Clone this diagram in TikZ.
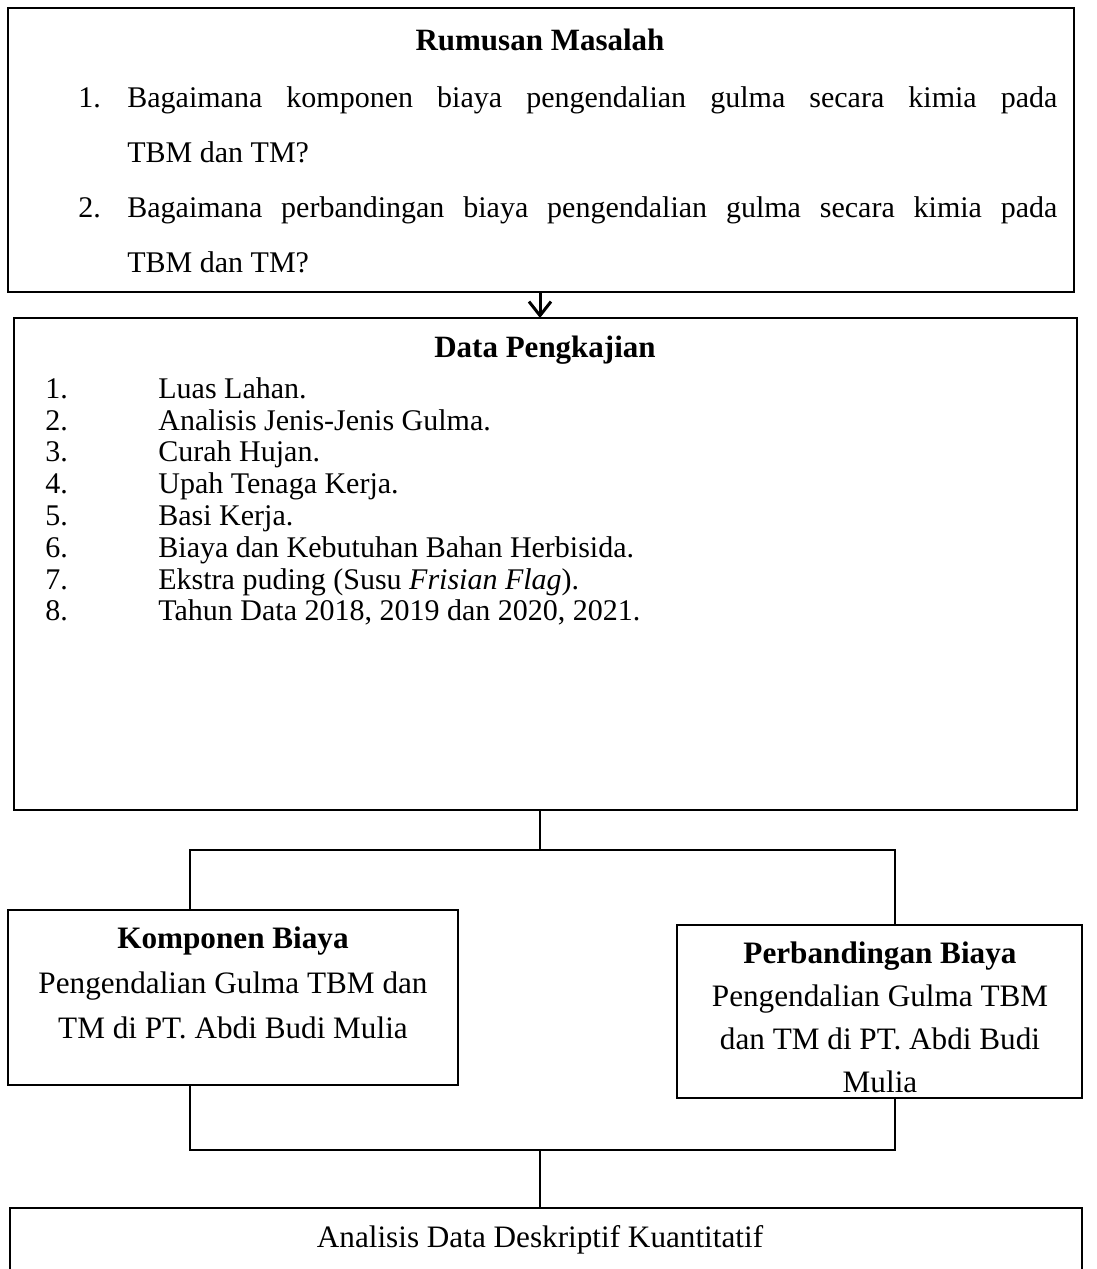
\documentclass[tikz,border=0pt]{standalone}
\usepackage{fontspec}
\setmainfont{Liberation Serif}
\usetikzlibrary{arrows.meta,positioning}

\newcommand{\listfont}{\fontsize{15}{27.5}\selectfont}
\newcommand{\datafont}{\fontsize{15}{15.9}\selectfont}
\newcommand{\boxfont}{\fontsize{15.6}{22.5}\selectfont}
\newcommand{\titlefont}{\fontsize{15.5}{18}\selectfont\bfseries}

\begin{document}
\begin{tikzpicture}[x=0.5pt,y=-0.5pt,
  box/.style={draw, line width=1.2pt, inner sep=0pt, outer sep=0pt, anchor=north west},
  link/.style={line width=1pt},
  font=\fontsize{15}{18}\selectfont]
  \useasboundingbox (0,0) rectangle (1097,1269);

  % boxes
  \node[box, minimum width=533pt, minimum height=142pt] (rumusan) at (8,8) {};
  \node[box, minimum width=531.5pt, minimum height=246pt] (data) at (14,318) {};
  \node[box, minimum width=225pt, minimum height=87.5pt] (komponen) at (8,910) {};
  \node[box, minimum width=202.5pt, minimum height=86.5pt] (banding) at (677,925) {};
  \node[box, minimum width=536pt, minimum height=60pt] (analisis) at (10,1208) {};

  % rumusan masalah
  \node[font=\titlefont] (rumusan title) at (540,40) {Rumusan Masalah};
  \node[anchor=north west, inner sep=0pt, text width=465pt, align=justify, font=\listfont] (soal) at (127,86)
    {\tolerance=9999
     \leavevmode\llap{\makebox[24.5pt][l]{1.}}Bagaimana komponen biaya pengendalian gulma secara kimia pada\linebreak TBM dan TM?\par
     \leavevmode\llap{\makebox[24.5pt][l]{2.}}Bagaimana perbandingan biaya pengendalian gulma secara kimia pada\linebreak TBM dan TM?};

  % data pengkajian
  \node[font=\titlefont] (data title) at (545,350) {Data Pengkajian};
  \node[anchor=north west, inner sep=0pt, align=left, font=\datafont] (butir) at (158,377)
    {\llap{\makebox[56.5pt][l]{1.}}Luas Lahan.\\
     \llap{\makebox[56.5pt][l]{2.}}Analisis Jenis-Jenis Gulma.\\
     \llap{\makebox[56.5pt][l]{3.}}Curah Hujan.\\
     \llap{\makebox[56.5pt][l]{4.}}Upah Tenaga Kerja.\\
     \llap{\makebox[56.5pt][l]{5.}}Basi Kerja.\\
     \llap{\makebox[56.5pt][l]{6.}}Biaya dan Kebutuhan Bahan Herbisida.\\
     \llap{\makebox[56.5pt][l]{7.}}Ekstra puding (Susu \textit{Frisian Flag}).\\
     \llap{\makebox[56.5pt][l]{8.}}Tahun Data 2018, 2019 dan 2020, 2021.};

  % komponen dan perbandingan
  \node[anchor=north, inner sep=0pt, align=center, font=\boxfont] (komponen text) at (233,926)
    {\textbf{Komponen Biaya}\\Pengendalian Gulma TBM dan\\TM di PT. Abdi Budi Mulia};
  \node[anchor=north, inner sep=0pt, align=center, font=\fontsize{15.6}{21.5}\selectfont] (banding text) at (880,941)
    {\textbf{Perbandingan Biaya}\\Pengendalian Gulma TBM\\dan TM di PT. Abdi Budi\\Mulia};

  \node[font=\fontsize{15.6}{18}\selectfont] (analisis text) at (540,1240) {Analisis Data Deskriptif Kuantitatif};

  % connectors
  \draw[line width=1.5pt, -{Straight Barb[length=7pt,width=11pt]}] (rumusan.south -| 540,0) -- (data.north -| 540,0);

  \coordinate (pisah) at (540,850);
  \coordinate (pisah kiri) at (190,850);
  \coordinate (pisah kanan) at (895,850);
  \draw[link] (data.south -| pisah) -- (pisah);
  \draw[link] (komponen.north -| pisah kiri) -- (pisah kiri) -- (pisah kanan) -- (banding.north -| pisah kanan);

  \coordinate (gabung) at (540,1150);
  \coordinate (gabung kiri) at (190,1150);
  \coordinate (gabung kanan) at (895,1150);
  \draw[link] (komponen.south -| gabung kiri) -- (gabung kiri) -- (gabung kanan) -- (banding.south -| gabung kanan);
  \draw[link] (gabung) -- (analisis.north -| gabung);
\end{tikzpicture}
\end{document}
